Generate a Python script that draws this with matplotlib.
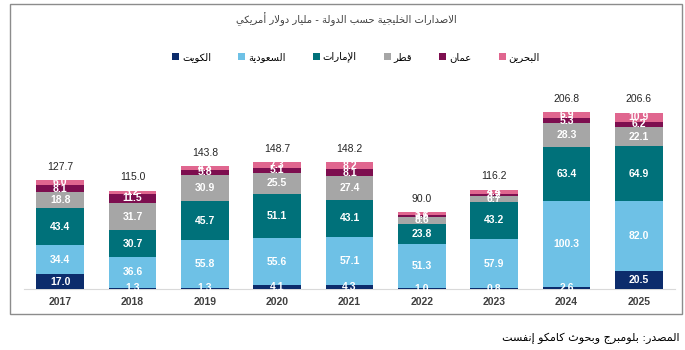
import matplotlib
matplotlib.use("Agg")
import matplotlib.pyplot as plt
from matplotlib.patches import Patch, Rectangle
import numpy as np

years = ["2017", "2018", "2019", "2020", "2021", "2022", "2023", "2024", "2025"]
kuwait = [17.0, 1.3, 1.3, 4.1, 4.3, 1.0, 0.8, 2.6, 20.5]
saudi = [34.4, 36.6, 55.8, 55.6, 57.1, 51.3, 57.9, 100.3, 82.0]
uae = [43.4, 30.7, 45.7, 51.1, 43.1, 23.8, 43.2, 63.4, 64.9]
qatar = [18.8, 31.7, 30.9, 25.5, 27.4, 8.6, 6.7, 28.3, 22.1]
oman = [8.1, 11.5, 5.8, 5.1, 8.1, 1.6, 3.2, 5.3, 6.2]
bahrain = [6.0, 3.2, 4.3, 7.3, 8.2, 3.7, 4.4, 6.9, 10.9]
totals = [127.7, 115.0, 143.8, 148.7, 148.2, 90.0, 116.2, 206.8, 206.6]

names = ["الكويت", "السعودية", "الإمارات", "قطر", "عمان", "البحرين"]
colors = ["#0c2c6c", "#6ec1e6", "#00717a", "#a6a6a6", "#7d0e4f", "#e0668f"]
title = "الاصدارات الخليجية حسب الدولة - مليار دولار أمريكي"
source = "المصدر: بلومبرج وبحوث كامكو إنفست"

# --- simple arabic shaping (presentation forms) + reversal for LTR drawing
_order = [(0x621, 1), (0x622, 2), (0x623, 2), (0x624, 2), (0x625, 2), (0x626, 4),
          (0x627, 2), (0x628, 4), (0x629, 2), (0x62A, 4), (0x62B, 4), (0x62C, 4),
          (0x62D, 4), (0x62E, 4), (0x62F, 2), (0x630, 2), (0x631, 2), (0x632, 2),
          (0x633, 4), (0x634, 4), (0x635, 4), (0x636, 4), (0x637, 4), (0x638, 4),
          (0x639, 4), (0x63A, 4), (0x641, 4), (0x642, 4), (0x643, 4), (0x644, 4),
          (0x645, 4), (0x646, 4), (0x647, 4), (0x648, 2), (0x649, 2), (0x64A, 4)]
FORMS = {}
_p = 0xFE80
for cp, n in _order:
    FORMS[chr(cp)] = [chr(_p + k) for k in range(n)]
    _p += n
LAM_ALEF = {"\u0622": 0xFEF5, "\u0623": 0xFEF7, "\u0625": 0xFEF9, "\u0627": 0xFEFB}


def shape(s):
    out = []
    i = 0
    while i < len(s):
        c = s[i]
        if c not in FORMS:
            out.append(c)
            i += 1
            continue
        prev = s[i - 1] if i > 0 else ""
        p = prev in FORMS and len(FORMS[prev]) == 4
        if c == "\u0644" and i + 1 < len(s) and s[i + 1] in LAM_ALEF:
            out.append(chr(LAM_ALEF[s[i + 1]] + (1 if p else 0)))
            i += 2
            continue
        nxt = s[i + 1] if i + 1 < len(s) else ""
        q = len(FORMS[c]) == 4 and nxt in FORMS and nxt != "\u0621"
        f = FORMS[c]
        if p and q:
            out.append(f[3])
        elif p:
            out.append(f[1] if len(f) > 1 else f[0])
        elif q:
            out.append(f[2])
        else:
            out.append(f[0])
        i += 1
    return "".join(reversed(out))


numfont = ["Liberation Sans Narrow", "Liberation Sans", "DejaVu Sans"]

fig = plt.figure(figsize=(6.85, 3.5), dpi=100)
ax = fig.add_axes([24 / 685, 61 / 350, 651 / 685, 205 / 350])

x = np.arange(len(years))
series = [kuwait, saudi, uae, qatar, oman, bahrain]
bottom = np.zeros(len(years))
for vals, col in zip(series, colors):
    ax.bar(x, vals, width=0.66, bottom=bottom, color=col, zorder=2)
    for xi, b, v in zip(x, bottom, vals):
        ax.text(xi, b + v / 2, "%.1f" % v, ha="center", va="center", color="white",
                fontsize=7.5, fontweight="bold", family=numfont, zorder=3)
    bottom = bottom + np.array(vals)

for xi, b, t in zip(x, bottom, totals):
    ax.annotate("%.1f" % t, (xi, b), xytext=(0, 6), textcoords="offset points",
                ha="center", va="bottom", fontsize=7.5, color="#262626", family=numfont)

ax.set_xlim(-0.5, len(years) - 0.5)
ax.set_ylim(0, 240)
ax.set_xticks(x)
ax.set_xticklabels(years, fontsize=7.5, fontweight="bold", color="#404040", family=numfont)
ax.tick_params(axis="x", length=0, pad=6)
ax.set_yticks([])
for s in ["top", "left", "right"]:
    ax.spines[s].set_visible(False)
ax.spines["bottom"].set_color("#d9d9d9")
ax.spines["bottom"].set_zorder(1)

fig.text(346 / 685, 1 - 19 / 350, shape(title), ha="center", va="center",
         fontsize=7.2, color="#404040", family="DejaVu Sans")

handles = [Patch(facecolor=c, edgecolor="none") for c in colors]
fig.legend(handles, [shape(n) for n in names], loc="center", ncol=6,
           bbox_to_anchor=(356 / 685, 1 - 57 / 350), frameon=False,
           prop={"family": "DejaVu Sans", "size": 7.2}, handlelength=0.7,
           handleheight=0.7, handletextpad=0.3, columnspacing=2.7)

fig.patches.append(Rectangle((10 / 685, 36 / 350), 672 / 685, 310 / 350,
                             transform=fig.transFigure, fill=False,
                             edgecolor="#8c8c8c", linewidth=1))

fig.text(680 / 685, 1 - 338 / 350, shape(source), ha="right", va="center",
         fontsize=8, color="black", family="DejaVu Sans")

fig.savefig("out.png", dpi=100)
